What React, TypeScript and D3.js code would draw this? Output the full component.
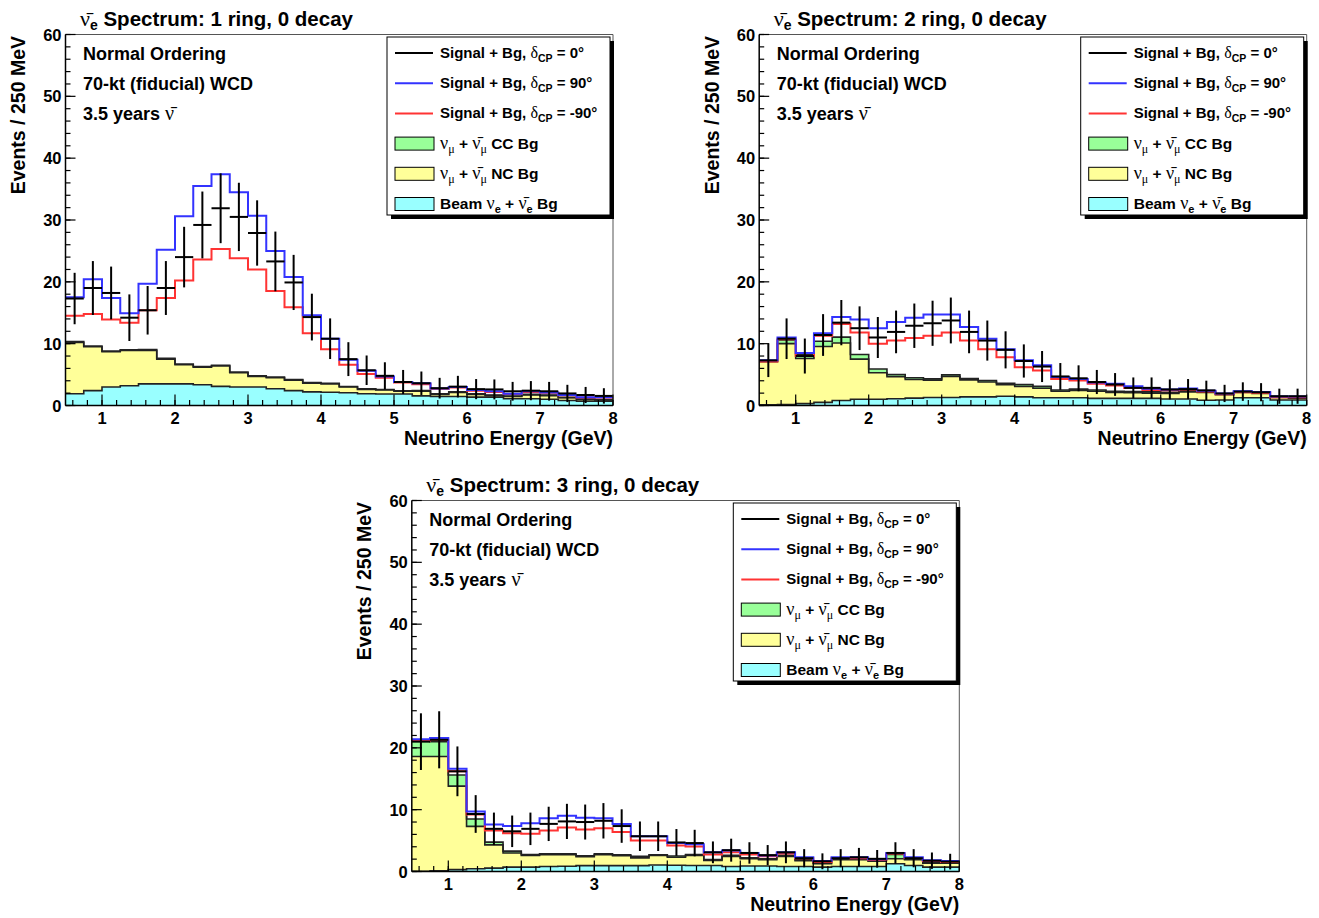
import React from 'react'
import * as d3 from 'd3'

// binning: 30 bins of 250 MeV from 0.5 to 8 GeV
const X_MIN = 0.5
const X_MAX = 8
const BIN_W = 0.25
const Y_MAX = 60
const X_TICKS = [1, 2, 3, 4, 5, 6, 7, 8]
const Y_TICKS = [0, 10, 20, 30, 40, 50, 60]

// ---- 1 ring, 0 decay ----
const ring1Blue = [17.5, 20.4, 17.4, 14.9, 19.7, 25.2, 30.6, 35.5, 37.4, 34.5, 30.7, 25.0, 20.8, 14.6, 10.8, 7.4, 5.6, 4.7, 3.8, 3.6, 2.75, 3.0, 2.5, 2.3, 1.9, 2.3, 2.1, 1.7, 1.35, 1.35]
const ring1Red = [14.5, 14.8, 13.9, 13.4, 15.4, 17.4, 20.2, 23.6, 25.3, 23.8, 22.0, 18.5, 15.9, 11.7, 9.1, 6.6, 5.1, 4.5, 3.7, 3.45, 2.7, 2.9, 2.4, 2.2, 1.85, 2.2, 2.05, 1.65, 1.3, 1.3]
const ring1Black = [17.3, 19.0, 18.2, 14.2, 15.4, 19.0, 24.0, 29.2, 31.9, 30.5, 27.9, 23.3, 19.9, 14.3, 10.8, 7.5, 5.7, 4.8, 3.8, 3.6, 2.8, 3.05, 2.65, 2.6, 2.3, 2.4, 2.3, 1.95, 1.7, 1.55]
const ring1Beam = [1.9, 2.4, 3.0, 3.2, 3.5, 3.5, 3.5, 3.35, 3.1, 3.0, 3.0, 2.7, 2.4, 2.2, 2.15, 2.05, 1.9, 1.85, 1.85, 1.55, 1.45, 1.45, 1.35, 1.35, 1.1, 1.1, 1.0, 0.8, 0.7, 0.7]
const ring1Nc = [8.3, 7.1, 5.7, 5.7, 5.4, 4.0, 3.1, 2.85, 3.3, 2.3, 1.7, 1.8, 1.7, 1.4, 1.35, 0.95, 0.7, 0.65, 0.45, 0.75, 0.35, 0.65, 0.45, 0.25, 0.35, 0.6, 0.6, 0.45, 0.3, 0.2]
const ring1Cc = [0.15, 0.12, 0.1, 0.12, 0.15, 0.12, 0.1, 0.1, 0.12, 0.1, 0.1, 0.1, 0.08, 0.1, 0.1, 0.08, 0.1, 0.08, 0.08, 0.1, 0.08, 0.1, 0.08, 0.08, 0.06, 0.1, 0.08, 0.06, 0.05, 0.05]

// ---- 2 ring, 0 decay ----
const ring2Blue = [7.3, 11.0, 8.5, 11.7, 14.3, 13.9, 12.5, 13.5, 14.2, 14.7, 14.7, 12.7, 10.8, 9.1, 7.3, 6.5, 4.6, 4.3, 3.7, 3.5, 3.1, 2.7, 2.6, 2.75, 2.4, 1.95, 2.3, 2.2, 1.45, 1.45]
const ring2Red = [7.1, 10.7, 8.0, 11.3, 13.2, 11.8, 10.0, 10.5, 10.9, 11.3, 11.8, 10.5, 9.1, 7.8, 6.2, 5.65, 4.3, 4.05, 3.5, 3.25, 2.85, 2.5, 2.45, 2.6, 2.25, 1.8, 2.15, 2.05, 1.35, 1.35]
const ring2Black = [7.3, 10.8, 8.0, 11.4, 13.4, 12.5, 11.0, 11.9, 12.9, 13.3, 13.75, 11.9, 10.5, 9.0, 7.2, 6.3, 4.7, 4.4, 3.8, 3.4, 2.85, 2.85, 2.6, 2.65, 2.45, 1.95, 2.25, 2.15, 1.5, 1.5]
const ring2Beam = [0.1, 0.15, 0.3, 0.5, 0.8, 1.0, 1.0, 1.1, 1.2, 1.3, 1.3, 1.4, 1.4, 1.5, 1.4, 1.25, 1.25, 1.25, 1.15, 1.15, 1.15, 1.15, 1.05, 1.05, 0.85, 0.9, 1.25, 1.25, 0.9, 0.9]
const ring2Nc = [7.0, 9.85, 7.3, 9.05, 9.3, 6.5, 4.3, 3.55, 3.0, 2.8, 3.4, 2.75, 2.4, 1.85, 1.7, 1.55, 1.05, 1.2, 1.15, 0.95, 0.9, 0.85, 0.9, 1.15, 1.25, 0.85, 0.85, 0.7, 0.4, 0.3]
const ring2Cc = [0.1, 0.6, 0.65, 0.85, 0.95, 0.75, 0.6, 0.35, 0.3, 0.2, 0.25, 0.2, 0.25, 0.25, 0.3, 0.3, 0.2, 0.2, 0.2, 0.2, 0.2, 0.2, 0.2, 0.2, 0.2, 0.15, 0.2, 0.2, 0.15, 0.15]

// ---- 3 ring, 0 decay ----
const ring3Blue = [21.4, 21.6, 16.6, 9.7, 7.6, 7.35, 7.8, 8.6, 9.0, 8.7, 8.6, 7.7, 5.7, 5.7, 4.6, 4.4, 3.1, 3.4, 3.0, 2.6, 3.1, 2.3, 1.7, 2.3, 2.3, 2.0, 3.0, 2.3, 1.8, 1.7]
const ring3Red = [21.2, 21.3, 16.2, 9.2, 6.65, 6.2, 6.1, 6.65, 7.1, 6.8, 7.0, 6.4, 5.0, 5.0, 4.2, 4.05, 2.75, 3.1, 2.75, 2.45, 2.9, 2.15, 1.55, 2.2, 2.15, 1.9, 2.9, 2.2, 1.7, 1.55]
const ring3Black = [21.0, 21.3, 16.2, 9.3, 6.9, 6.5, 6.9, 7.7, 8.1, 8.0, 8.2, 7.35, 5.7, 5.7, 4.7, 4.6, 3.1, 3.45, 3.0, 2.65, 3.1, 2.15, 1.65, 2.15, 2.3, 2.05, 3.0, 2.15, 1.75, 1.6]
const ring3Beam = [0.05, 0.1, 0.3, 0.45, 0.55, 0.7, 0.7, 0.8, 0.85, 0.95, 0.95, 0.95, 0.95, 1.05, 1.0, 0.97, 0.97, 0.8, 0.9, 0.9, 0.8, 0.8, 0.7, 0.8, 0.8, 0.8, 1.25, 0.97, 0.7, 0.7]
const ring3Nc = [18.55, 18.5, 13.5, 6.85, 3.75, 2.3, 1.9, 1.9, 1.85, 1.45, 1.75, 1.6, 1.25, 1.55, 1.3, 1.63, 0.83, 1.65, 1.15, 1.0, 1.65, 0.95, 0.55, 1.1, 1.1, 0.85, 0.8, 0.93, 0.65, 0.65]
const ring3Cc = [2.5, 2.4, 1.8, 1.2, 0.45, 0.3, 0.15, 0.15, 0.15, 0.15, 0.15, 0.15, 0.25, 0.1, 0.2, 0.15, 0.15, 0.15, 0.15, 0.15, 0.15, 0.15, 0.15, 0.15, 0.15, 0.15, 0.7, 0.15, 0.15, 0.15]

const COL_BLUE = '#3333ff'
const COL_RED = '#ff3333'
const COL_CC = '#99ff99'
const COL_NC = '#ffff99'
const COL_BEAM = '#99ffff'

const SANS = '"Liberation Sans", Arial, Helvetica, sans-serif'
const GREEK = '"Liberation Serif", "DejaVu Serif", serif'

const FRAME_W = 547.5
const FRAME_H = 371

interface PanelProps {
  left: number
  top: number
  rings: number
  blue: number[]
  red: number[]
  black: number[]
  beam: number[]
  nc: number[]
  cc: number[]
}

// greek glyphs like ROOT's symbol font: upright serif, not bold
const G = ({ children, size }: { children: React.ReactNode; size?: number }) => (
  <tspan fontFamily={GREEK} fontWeight="normal" fontSize={size}>{children}</tspan>
)

const NU = 'ν'
const NUBAR = 'ν\u0304'

function stepPoints(vals: number[]) {
  const pts = vals.map((v, i) => ({ e: X_MIN + i * BIN_W, v }))
  pts.push({ e: X_MIN + vals.length * BIN_W, v: vals[vals.length - 1] })
  return pts
}

const Panel: React.FC<PanelProps> = ({ left, top, rings, blue, red, black, beam, nc, cc }) => {
  const R = left + FRAME_W
  const B = top + FRAME_H
  const x = d3.scaleLinear().domain([X_MIN, X_MAX]).range([left, R])
  const y = d3.scaleLinear().domain([0, Y_MAX]).range([B, top])

  const rows = beam.map((b, i) => ({ beam: b, nc: nc[i], cc: cc[i] }))
  const layers = d3.stack<{ beam: number; nc: number; cc: number }>().keys(['beam', 'nc', 'cc'])(rows)
  const fills: Record<string, string> = { beam: COL_BEAM, nc: COL_NC, cc: COL_CC }

  const area = d3.area<{ e: number; lo: number; hi: number }>()
    .curve(d3.curveStepAfter)
    .x(d => x(d.e))
    .y0(d => y(d.lo))
    .y1(d => y(d.hi))

  const step = d3.line<{ e: number; v: number }>()
    .curve(d3.curveStepAfter)
    .x(d => x(d.e))
    .y(d => y(d.v))

  const layerArea = (layer: d3.Series<any, string>) => {
    const pts = layer.map((d, i) => ({ e: X_MIN + i * BIN_W, lo: d[0], hi: d[1] }))
    const last = layer[layer.length - 1]
    pts.push({ e: X_MIN + layer.length * BIN_W, lo: last[0], hi: last[1] })
    return area(pts) || ''
  }

  const xMinor = d3.range(0.6, X_MAX + 0.001, 0.2)
  const yMinor = d3.range(0, Y_MAX + 0.001, 2)

  const legL = R - 226
  const legT = top + 2.5
  const legW = 223
  const legH = 178
  const rowY = (i: number) => legT + 16 + i * 30.2

  return (
    <g fontFamily={SANS} fontWeight="bold">
      {/* stacked backgrounds */}
      {layers.map(l => (
        <path key={l.key} d={layerArea(l)} fill={fills[l.key]} stroke="none" />
      ))}
      {layers.map(l => (
        <path key={'o' + l.key} d={step(stepPoints(l.map(d => d[1]))) || ''} fill="none" stroke="#222" strokeWidth={1.6} />
      ))}

      {/* signal + bg histograms */}
      <path d={step(stepPoints(red)) || ''} fill="none" stroke={COL_RED} strokeWidth={2} />
      <path d={step(stepPoints(blue)) || ''} fill="none" stroke={COL_BLUE} strokeWidth={2} />

      {/* delta_CP = 0 with errors */}
      {black.map((v, i) => {
        const e0 = X_MIN + i * BIN_W
        const c = e0 + BIN_W / 2
        const err = Math.sqrt(v)
        return (
          <g key={'b' + i} stroke="#000" strokeWidth={2}>
            <line x1={x(e0)} x2={x(e0 + BIN_W)} y1={y(v)} y2={y(v)} />
            <line x1={x(c)} x2={x(c)} y1={y(Math.max(0, v - err))} y2={y(v + err)} />
          </g>
        )
      })}

      {/* frame */}
      <line x1={left} x2={R} y1={top} y2={top} stroke="#555" strokeWidth={1} />
      <line x1={R} x2={R} y1={top} y2={B} stroke="#555" strokeWidth={1} />

      {/* axes */}
      <line x1={left} x2={R} y1={B} y2={B} stroke="#000" strokeWidth={1.5} />
      <line x1={left} x2={left} y1={top} y2={B} stroke="#000" strokeWidth={1.5} />
      {xMinor.map(t => (
        <line key={'xm' + t} x1={x(t)} x2={x(t)} y1={B} y2={B - 5.5} stroke="#000" strokeWidth={1.2} />
      ))}
      {X_TICKS.map(t => (
        <g key={'x' + t}>
          <line x1={x(t)} x2={x(t)} y1={B} y2={B - 11} stroke="#000" strokeWidth={1.2} />
          <text x={x(t)} y={B + 18} textAnchor="middle" fontSize={16.5}>{t}</text>
        </g>
      ))}
      {yMinor.map(t => (
        <line key={'ym' + t} x1={left} x2={left + 5} y1={y(t)} y2={y(t)} stroke="#000" strokeWidth={1.2} />
      ))}
      {Y_TICKS.map(t => (
        <g key={'y' + t}>
          <line x1={left} x2={left + 10} y1={y(t)} y2={y(t)} stroke="#000" strokeWidth={1.2} />
          <text x={left - 4} y={y(t) + 6} textAnchor="end" fontSize={16.5}>{t}</text>
        </g>
      ))}

      <text x={R} y={B + 39} textAnchor="end" fontSize={19.5}>Neutrino Energy (GeV)</text>
      <text transform={`translate(${left - 40.5},${top + 1.5}) rotate(-90)`} textAnchor="end" fontSize={19.5}>Events / 250 MeV</text>

      {/* title */}
      <text x={left + 14.5} y={top - 8.5} fontSize={20.5}>
        <G size={22}>{NUBAR}</G>
        <tspan dy={4} fontSize={14}>e</tspan>
        <tspan dy={-4}> Spectrum: {rings} ring, 0 decay</tspan>
      </text>

      {/* annotations */}
      <text x={left + 17.5} y={top + 25.5} fontSize={18}>Normal Ordering</text>
      <text x={left + 17.5} y={top + 55} fontSize={18}>70-kt (fiducial) WCD</text>
      <text x={left + 17.5} y={top + 85} fontSize={18}>3.5 years <G size={20}>{NUBAR}</G></text>

      {/* legend */}
      <rect x={legL + 4} y={legT + 4} width={legW} height={legH} fill="#000" />
      <rect x={legL} y={legT} width={legW} height={legH} fill="#fff" stroke="#000" strokeWidth={1} />
      {[
        { col: '#000', label: '0°' },
        { col: COL_BLUE, label: '90°' },
        { col: COL_RED, label: '-90°' }
      ].map((d, i) => (
        <g key={'l' + i}>
          <line x1={legL + 8} x2={legL + 46} y1={rowY(i)} y2={rowY(i)} stroke={d.col} strokeWidth={2} />
          <text x={legL + 53} y={rowY(i) + 5} fontSize={15}>
            Signal + Bg, <G size={16}>δ</G>
            <tspan dy={4} fontSize={10.5}>CP</tspan>
            <tspan dy={-4}> = {d.label}</tspan>
          </text>
        </g>
      ))}
      {[COL_CC, COL_NC, COL_BEAM].map((col, i) => (
        <rect key={'f' + i} x={legL + 8} y={rowY(i + 3) - 6.5} width={39} height={13} fill={col} stroke="#000" strokeWidth={1} />
      ))}
      {['CC Bg', 'NC Bg'].map((lab, i) => (
        <text key={'t' + i} x={legL + 53} y={rowY(3 + i) + 5} fontSize={15.5}>
          <G size={18}>{NU}</G>
          <tspan dy={4} fontFamily={GREEK} fontWeight="normal" fontSize={12}>μ</tspan>
          <tspan dy={-4}> + </tspan>
          <G size={18}>{NUBAR}</G>
          <tspan dy={4} fontFamily={GREEK} fontWeight="normal" fontSize={12}>μ</tspan>
          <tspan dy={-4}> {lab}</tspan>
        </text>
      ))}
      <text x={legL + 53} y={rowY(5) + 5} fontSize={15.5}>
        Beam <G size={18}>{NU}</G>
        <tspan dy={4} fontSize={11}>e</tspan>
        <tspan dy={-4}> + </tspan>
        <G size={18}>{NUBAR}</G>
        <tspan dy={4} fontSize={11}>e</tspan>
        <tspan dy={-4}> Bg</tspan>
      </text>
    </g>
  )
}

export default function App() {
  return (
    <svg width={1319} height={918} style={{ position: 'absolute', left: 0, top: 0, background: '#fff' }}>
      <Panel left={65.5} top={34.5} rings={1} blue={ring1Blue} red={ring1Red} black={ring1Black} beam={ring1Beam} nc={ring1Nc} cc={ring1Cc} />
      <Panel left={759.2} top={34.5} rings={2} blue={ring2Blue} red={ring2Red} black={ring2Black} beam={ring2Beam} nc={ring2Nc} cc={ring2Cc} />
      <Panel left={411.8} top={500.5} rings={3} blue={ring3Blue} red={ring3Red} black={ring3Black} beam={ring3Beam} nc={ring3Nc} cc={ring3Cc} />
    </svg>
  )
}
